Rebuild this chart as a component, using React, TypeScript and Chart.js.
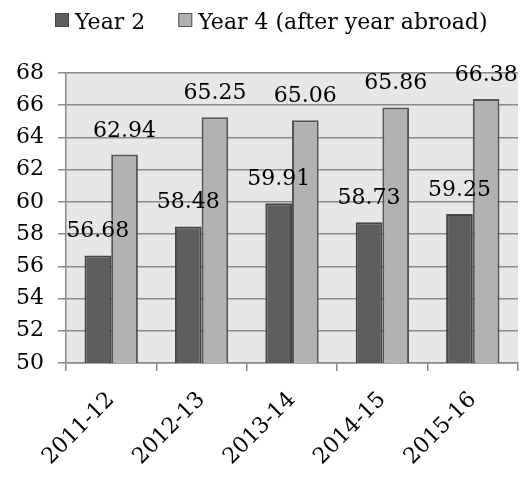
import React, { useEffect, useRef } from "react";
import { Chart, registerables } from "chart.js";

Chart.register(...registerables);

const categories = ["2011-12", "2012-13", "2013-14", "2014-15", "2015-16"];
const year2 = [56.68, 58.48, 59.91, 58.73, 59.25];
const year4 = [62.94, 65.25, 65.06, 65.86, 66.38];
const seriesLabels = ["Year 2", "Year 4 (after year abroad)"];

const FONT = "DejaVu Serif";
const FS = 22;

const bgPlugin = {
  id: "plotBg",
  beforeDraw(chart: any) {
    const { ctx, chartArea } = chart;
    ctx.save();
    ctx.fillStyle = "#e7e7e7";
    ctx.fillRect(chartArea.left, chartArea.top, chartArea.right - chartArea.left, chartArea.bottom - chartArea.top);
    ctx.restore();
  },
};

const labelPlugin = {
  id: "valLabels",
  afterDatasetsDraw(chart: any) {
    const { ctx } = chart;
    ctx.save();
    ctx.font = `${FS}px "${FONT}"`;
    ctx.fillStyle = "#000";
    ctx.textAlign = "center";
    ctx.textBaseline = "alphabetic";
    chart.data.datasets.forEach((ds: any, di: number) => {
      const meta = chart.getDatasetMeta(di);
      meta.data.forEach((el: any, i: number) => {
        ctx.fillText(Number(ds.data[i]).toFixed(2), el.x, el.y - 18);
      });
    });
    ctx.restore();
  },
};

const legendPlugin = {
  id: "customLegend",
  afterDraw(chart: any) {
    const { ctx } = chart;
    ctx.save();
    ctx.font = `${FS}px "${FONT}"`;
    ctx.textBaseline = "alphabetic";
    ctx.textAlign = "left";
    let x = 55;
    chart.data.datasets.forEach((ds: any) => {
      ctx.fillStyle = ds.backgroundColor;
      ctx.fillRect(x, 13, 14, 14);
      ctx.strokeStyle = ds.borderColor;
      ctx.lineWidth = 1;
      ctx.strokeRect(x + 0.5, 13.5, 13, 13);
      ctx.fillStyle = "#000";
      ctx.fillText(ds.label, x + 20, 28.5);
      x += 20 + ctx.measureText(ds.label).width + 33;
    });
    ctx.restore();
  },
};

export default function App() {
  const ref = useRef<HTMLCanvasElement>(null);
  useEffect(() => {
    document.body.style.margin = "0";
    const chart = new Chart(ref.current!, {
      type: "bar",
      data: {
        labels: categories,
        datasets: [
          {
            label: seriesLabels[0],
            data: year2,
            backgroundColor: "#5e5e5e",
            borderColor: "#444444",
            borderWidth: 2,
            categoryPercentage: 0.59,
            barPercentage: 1,
          },
          {
            label: seriesLabels[1],
            data: year4,
            backgroundColor: "#b2b2b2",
            borderColor: "#555555",
            borderWidth: 2,
            categoryPercentage: 0.59,
            barPercentage: 1,
          },
        ],
      },
      options: {
        animation: false,
        responsive: false,
        devicePixelRatio: 1,
        layout: { padding: { top: 73, right: 5, left: 0, bottom: 0 } },
        plugins: { legend: { display: false }, tooltip: { enabled: false } },
        scales: {
          x: {
            grid: {
              offset: true,
              drawOnChartArea: false,
              drawTicks: true,
              tickLength: 8,
              color: "#8a8a8a",
              lineWidth: 1.5,
            },
            border: { color: "#8a8a8a", width: 1.5 },
            ticks: {
              color: "#000",
              font: { family: FONT, size: FS },
              maxRotation: 45,
              minRotation: 45,
              padding: 16,
            },
            afterFit(scale: any) {
              scale.height = 486 - 363;
            },
          },
          y: {
            min: 50,
            max: 68,
            ticks: {
              stepSize: 2,
              color: "#000",
              font: { family: FONT, size: FS },
              padding: 14,
            },
            grid: { color: "#8a8a8a", lineWidth: 1.5, tickLength: 8 },
            border: { color: "#8a8a8a", width: 1.5 },
            afterFit(scale: any) {
              scale.width = 66;
            },
          },
        },
      },
      plugins: [bgPlugin, labelPlugin, legendPlugin],
    });
    return () => chart.destroy();
  }, []);
  return (
    <div style={{ width: 523, height: 486 }}>
      <canvas ref={ref} width={523} height={486} />
    </div>
  );
}
